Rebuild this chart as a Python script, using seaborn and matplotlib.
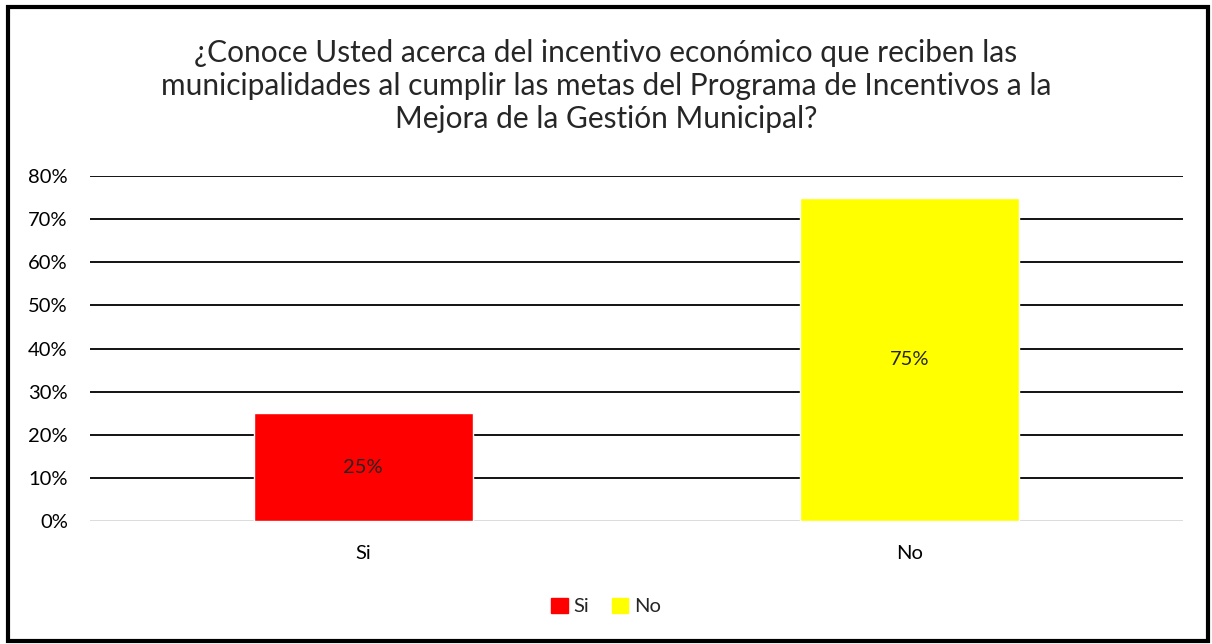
import pandas as pd
import matplotlib.pyplot as plt
import seaborn as sns
from matplotlib.patches import Rectangle
from matplotlib.ticker import PercentFormatter

# data
categories = ['Si', 'No']
values = [25, 75]
colors = ['#FF0000', '#FFFF00']

df = pd.DataFrame({'Respuesta': categories, 'Porcentaje': values})

sns.set_style('white')
plt.rcParams['font.family'] = ['Lato', 'DejaVu Sans']

fig = plt.figure(figsize=(12.12, 6.44), dpi=100)
ax = fig.add_axes([0.0743, 0.191, 0.9017, 0.5357])

sns.barplot(data=df, x='Respuesta', y='Porcentaje', hue='Respuesta',
            palette=colors, width=0.4, legend=False, ax=ax, saturation=1)

ax.set_ylim(0, 80)
ax.set_yticks(range(0, 81, 10))
ax.yaxis.set_major_formatter(PercentFormatter(decimals=0))
for t in range(10, 81, 10):
    ax.axhline(t, color='black', lw=1.3, zorder=0)
ax.axhline(0, color='#d9d9d9', lw=1.3, zorder=0)
for s in ax.spines.values():
    s.set_visible(False)
ax.tick_params(axis='both', length=0, labelsize=14.5, colors='black')
ax.tick_params(axis='y', pad=16)
ax.tick_params(axis='x', pad=17)
ax.set_xlabel('')
ax.set_ylabel('')

for i, v in enumerate(values):
    ax.text(i, v / 2, f'{v}%', ha='center', va='center', fontsize=14.5)

# legend
handles = [Rectangle((0, 0), 1, 1, color=c) for c in colors]
fig.legend(handles, categories, loc='center', bbox_to_anchor=(0.5, 0.058),
           ncol=2, frameon=False, fontsize=14.5, handlelength=0.8,
           handleheight=0.8, handletextpad=0.3, columnspacing=1.1)

fig.text(0.5, 0.866,
         '¿Conoce Usted acerca del incentivo económico que reciben las\n'
         'municipalidades al cumplir las metas del Programa de Incentivos a la\n'
         'Mejora de la Gestión Municipal?',
         ha='center', va='center', fontsize=21.5, linespacing=1.22)

# outer border
fig.patches.append(Rectangle((0.0066, 0.0047), 0.9904, 0.9845, transform=fig.transFigure,
                             fill=False, edgecolor='black', lw=3))

fig.savefig('out.png', dpi=100)
